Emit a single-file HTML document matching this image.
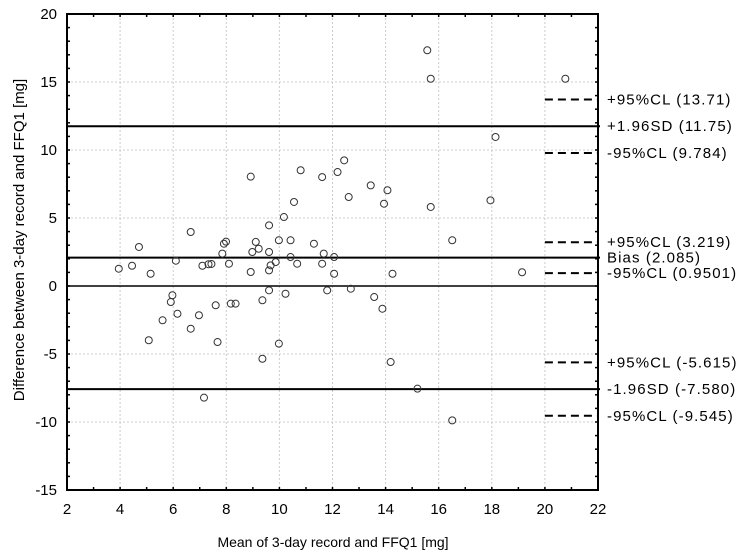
<!DOCTYPE html>
<html><head><meta charset="utf-8"><style>
html,body{margin:0;padding:0;background:#fff;}
svg{display:block;font-family:"Liberation Sans",Arial,sans-serif;}
</style></head><body>
<svg id="chart" width="743" height="556" viewBox="0 0 743 556" xmlns="http://www.w3.org/2000/svg"></svg>
<script>
const xVals=[8.92,6.66,4.71,7.91,7.99,9.11,9.22,8.98,7.85,6.10,3.95,4.45,5.15,7.10,7.33,7.44,8.10,8.92,5.97,5.91,7.60,8.17,8.35,6.16,6.97,5.60,6.66,5.08,7.67,7.16,10.80,11.61,12.19,12.44,13.44,14.07,12.61,13.94,15.70,10.55,10.17,9.61,9.98,10.42,11.30,9.61,11.67,12.06,10.42,9.86,9.67,10.67,11.61,9.61,12.06,14.26,9.61,10.23,11.80,12.69,9.36,13.57,13.88,9.98,9.36,14.19,15.20,15.57,15.70,20.77,18.14,17.95,16.51,19.14,16.51];
const yVals=[8.04,3.97,2.87,3.11,3.26,3.24,2.74,2.50,2.38,1.86,1.27,1.49,0.90,1.49,1.60,1.62,1.64,1.03,-0.68,-1.18,-1.42,-1.30,-1.30,-2.04,-2.15,-2.52,-3.14,-3.99,-4.12,-8.21,8.51,8.01,8.38,9.24,7.40,7.04,6.54,6.05,5.81,6.18,5.07,4.46,3.36,3.36,3.11,2.50,2.38,2.13,2.13,1.76,1.52,1.64,1.64,1.15,0.90,0.90,-0.32,-0.57,-0.32,-0.20,-1.05,-0.81,-1.67,-4.24,-5.35,-5.59,-7.55,17.33,15.24,15.24,10.96,6.30,3.36,1.01,-9.88];
const xTicks=[2,4,6,8,10,12,14,16,18,20,22];
const yTicks=[20,15,10,5,0,-5,-10,-15];
const solidVals=[11.75,2.085,-7.580];
const solidLabels=["+1.96SD (11.75)","Bias (2.085)","-1.96SD (-7.580)"];
const dashVals=[13.71,9.784,3.219,0.9501,-5.615,-9.545];
const dashLabels=["+95%CL (13.71)","-95%CL (9.784)","+95%CL (3.219)","-95%CL (0.9501)","+95%CL (-5.615)","-95%CL (-9.545)"];

const L=67,R=598,T=14,B=490,xmin=2,xmax=22,ymin=-15,ymax=20;
const sx=v=>L+(v-xmin)/(xmax-xmin)*(R-L);
const sy=v=>B-(v-ymin)/(ymax-ymin)*(B-T);
const svg=document.getElementById('chart');
const NS='http://www.w3.org/2000/svg';
function mk(tag,attrs,parent){const e=document.createElementNS(NS,tag);for(const k in attrs)e.setAttribute(k,attrs[k]);(parent||svg).appendChild(e);return e;}

xTicks.forEach(v=>{const g=mk('line',{x1:sx(v),x2:sx(v),y1:T,y2:B,stroke:'#ccc','stroke-width':1,'stroke-dasharray':'2,2'});

});
yTicks.forEach(v=>{const g=mk('line',{x1:L,x2:R,y1:sy(v),y2:sy(v),stroke:'#ccc','stroke-width':1,'stroke-dasharray':'2,2'});

});

for(let v=xmin;v<=xmax;v++){
 const a=mk('line',{x1:sx(v),x2:sx(v),y1:B,y2:B-3,stroke:'#000','stroke-width':1.5});
 
 
 const b=mk('line',{x1:sx(v),x2:sx(v),y1:T,y2:T+3,stroke:'#000','stroke-width':1.5});
 
 
}
for(let v=ymin;v<=ymax;v++){
 const a=mk('line',{x1:L,x2:L+3,y1:sy(v),y2:sy(v),stroke:'#000','stroke-width':1.5});
 
 
 const b=mk('line',{x1:R,x2:R-3,y1:sy(v),y2:sy(v),stroke:'#000','stroke-width':1.5});
 
 
}

const z=mk('line',{x1:L,x2:R,y1:sy(0),y2:sy(0),stroke:'#000','stroke-width':1.5});



solidVals.forEach((v,i)=>{
 const l=mk('line',{x1:L,x2:R+2,y1:sy(v),y2:sy(v),stroke:'#000','stroke-width':2});
 
 
 const t=mk('text',{x:607,y:sy(v)+5,'font-size':15,fill:'#000','letter-spacing':'1.1'});
 t.textContent=solidLabels[i];
 
 
});
dashVals.forEach((v,i)=>{
 const l=mk('line',{x1:sx(20),x2:R,y1:sy(v),y2:sy(v),stroke:'#000','stroke-width':2,'stroke-dasharray':'8,5'});
 
 
 const t=mk('text',{x:607,y:sy(v)+5,'font-size':15,fill:'#000','letter-spacing':'1.1'});
 t.textContent=dashLabels[i];
 
 
});

xVals.forEach((x,i)=>{
 const c=mk('circle',{cx:sx(x),cy:sy(yVals[i]),r:3.5,fill:'none',stroke:'#333','stroke-width':1});
 
 
});

const f=mk('rect',{x:L,y:T,width:R-L,height:B-T,fill:'none',stroke:'#000','stroke-width':2});



xTicks.forEach(v=>{const t=mk('text',{x:sx(v),y:B+24,'font-size':15,'text-anchor':'middle',fill:'#000'});t.textContent=v;

});
yTicks.forEach(v=>{const t=mk('text',{x:L-10,y:sy(v)+5,'font-size':15,'text-anchor':'end',fill:'#000'});t.textContent=v;

});

const xt=mk('text',{x:333,y:547,'font-size':14,'text-anchor':'middle',fill:'#000'});
xt.textContent='Mean of 3-day record and FFQ1 [mg]';


const yt=mk('text',{x:0,y:0,'font-size':15,'text-anchor':'middle',fill:'#000',transform:'translate(24,240) rotate(-90)'});
yt.textContent='Difference between 3-day record and FFQ1 [mg]';


</script>
</body></html>
